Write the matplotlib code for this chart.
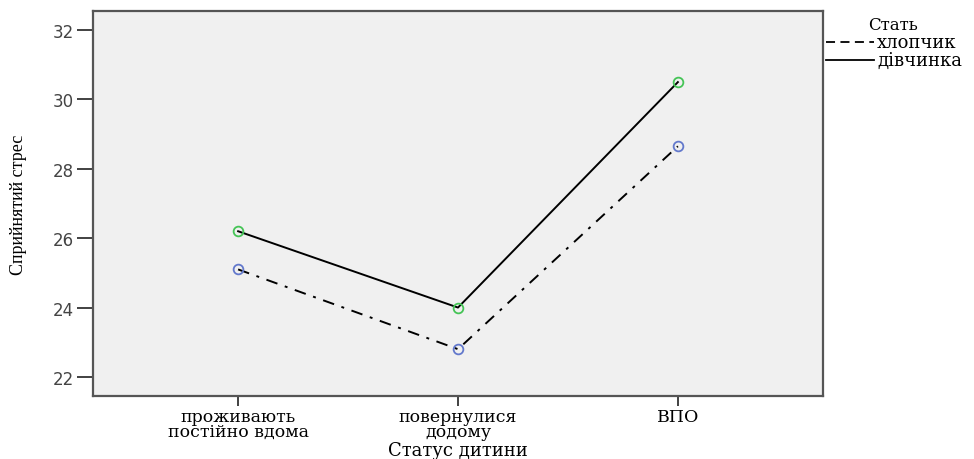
import matplotlib
matplotlib.use("Agg")
from matplotlib import pyplot as plt
from matplotlib.lines import Line2D

categories = ['проживають\nпостійно вдома', 'повернулися\nдодому', 'ВПО']
girls = [26.2, 24.0, 30.5]
boys = [25.1, 22.8, 28.65]
y_ticks = [22, 24, 26, 28, 30, 32]
legend_title = 'Стать'
legend_labels = ['хлопчик', 'дівчинка']

plt.rcParams['font.family'] = ['DejaVu Serif']

W, H = 974, 460
fig = plt.figure(figsize=(W / 100, H / 100), dpi=100)
ax = fig.add_axes([93/W, 1 - 397/H, 730/W, 385/H])
ax.set_facecolor('#f0f0f0')

x = range(len(categories))
ax.plot(x, boys, color='black', linewidth=1.4, linestyle=(0, (6, 4, 1.5, 4)), zorder=2)
ax.plot(x, girls, color='black', linewidth=1.4, linestyle='-', zorder=2)
ax.plot(x, boys, linestyle='none', marker='o', markersize=7, markerfacecolor='none',
        markeredgecolor='#6379cc', markeredgewidth=1.3, zorder=3)
ax.plot(x, girls, linestyle='none', marker='o', markersize=7, markerfacecolor='none',
        markeredgecolor='#45c456', markeredgewidth=1.3, zorder=3)

ax.set_xlim(-0.66, 2.66)
ax.set_ylim(21.45, 32.55)
ax.set_xticks(list(x))
ax.set_xticklabels(categories, fontsize=12.5, linespacing=0.85)
ax.set_yticks(y_ticks)
ax.set_yticklabels([str(t) for t in y_ticks], fontsize=12, color='#444444',
                   family='DejaVu Sans')
ax.tick_params(axis='y', length=11.5, width=1.3, color='#333333', pad=2)
ax.tick_params(axis='x', length=7.5, width=1.3, color='#333333', pad=1)

for s in ax.spines.values():
    s.set_color('#555555')
    s.set_linewidth(1.6)

ax.set_xlabel('Статус дитини', fontsize=13)
ax.xaxis.set_label_coords(0.5, -0.117)
ax.set_ylabel('Сприйнятий стрес', fontsize=13, family='Liberation Serif')
ax.yaxis.set_label_coords(-0.09, 0.5)

# legend drawn by hand to the right of the frame
def px(xp, yp):
    return xp / W, 1 - yp / H

fig.text(*px(868, 25), legend_title, fontsize=12, va='center', ha='left')
fig.add_artist(Line2D([826/W, 874/W], [1 - 43/H] * 2, color='black',
                      linewidth=1.3, linestyle=(0, (5, 3))))
fig.add_artist(Line2D([826/W, 874/W], [1 - 61/H] * 2, color='black',
                      linewidth=1.3, linestyle='-'))
fig.text(*px(877, 43), legend_labels[0], fontsize=13, va='center', ha='left')
fig.text(*px(877, 61), legend_labels[1], fontsize=13, va='center', ha='left')

fig.savefig('out.png', dpi=100)
